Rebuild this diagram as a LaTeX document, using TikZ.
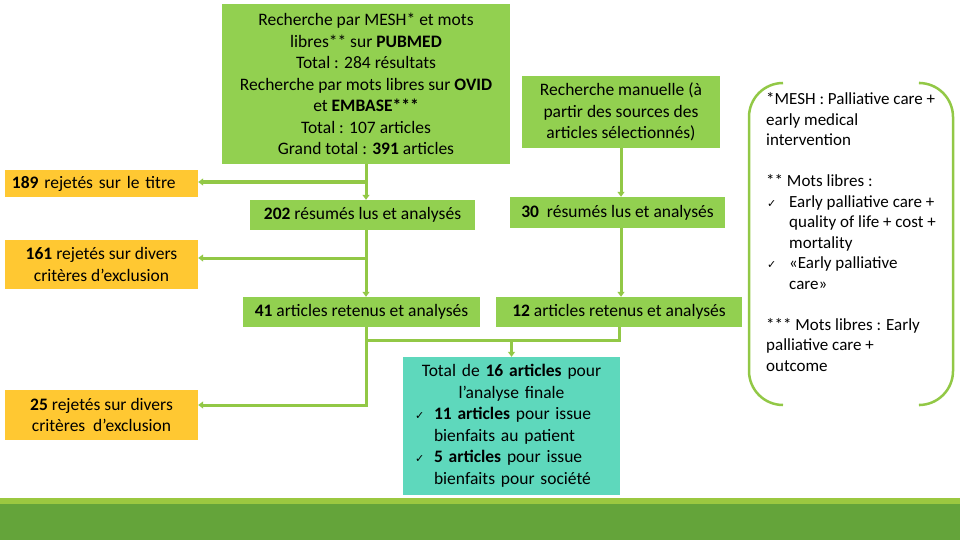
\documentclass[tikz,border=0pt]{standalone}
\usepackage{fontspec}
\setmainfont{Carlito}
\newfontfamily\djv{DejaVu Sans}
\usetikzlibrary{arrows.meta}
\definecolor{boxgreen}{RGB}{146,208,80}
\definecolor{linegreen}{RGB}{146,200,70}
\definecolor{orangebox}{RGB}{255,200,50}
\definecolor{tealbox}{RGB}{94,216,188}
\definecolor{bandlight}{RGB}{155,200,64}
\definecolor{banddark}{RGB}{100,164,58}
\newcommand{\ck}{{\djv\fontsize{11}{11}\selectfont ✓}}
\begin{document}
\begin{tikzpicture}[x=1pt,y=-1pt,
  txt/.style={font=\fontsize{17.5}{21.5}\selectfont},
  gbox/.style={txt, fill=boxgreen, inner sep=0pt, align=center},
  obox/.style={txt, fill=orangebox, inner sep=0pt, align=center},
  arr/.style={draw=linegreen, line width=3pt, -{Triangle[width=7pt,length=5pt]}},
  conn/.style={draw=linegreen, line width=3pt},
  legend/.style={font=\fontsize{17}{20.5}\selectfont, align=left, anchor=base west, inner sep=0pt},
  bracket/.style={draw=linegreen, line width=2.5pt, rounded corners=34pt}
]
\useasboundingbox (0,0) rectangle (960,540);
\fill[bandlight] (0,498) rectangle (960,504);
\fill[banddark] (0,504) rectangle (960,540);

\node[gbox, minimum width=288pt, minimum height=160pt] (top) at (366,84) {Recherche par MESH* et mots\\libres** sur \textbf{PUBMED}\\Total : 284 résultats\\Recherche par mots libres sur \textbf{OVID}\\et \textbf{EMBASE***}\\Total : 107 articles\\Grand total : \textbf{391} articles};
\node[gbox, minimum width=198pt, minimum height=72pt] (man) at (621,112) {Recherche manuelle (à\\partir des sources des\\articles sélectionnés)};
\node[obox, minimum width=193pt, minimum height=27pt, text width=179pt, align=left] (r189) at (101.5,183.5) {\textbf{189} rejetés sur le titre};
\node[gbox, minimum width=225pt, minimum height=30pt] (b202) at (362.5,215) {\textbf{202} résumés lus et analysés};
\node[gbox, minimum width=215pt, minimum height=31pt] (b30) at (617.5,212.5) {\textbf{30}~ résumés lus et analysés};
\node[obox, minimum width=193pt, minimum height=49pt] (r161) at (101.5,264.5) {\textbf{161} rejetés sur divers\\critères d’exclusion};
\node[gbox, minimum width=237pt, minimum height=30pt] (b41) at (361.5,312) {\textbf{41} articles retenus et analysés};
\node[gbox, minimum width=246pt, minimum height=30pt] (b12) at (619,312) {\textbf{12} articles retenus et analysés};
\node[obox, minimum width=193pt, minimum height=50pt] (r25) at (101.5,415) {\textbf{25} rejetés sur divers\\critères~ d’exclusion};
\node[txt, fill=tealbox, minimum width=217pt, minimum height=138pt, text width=193pt, inner xsep=12pt, inner ysep=0pt, align=left] (tot) at (511.5,426) {\makebox[\linewidth][c]{Total de \textbf{16 articles} pour}\\ \makebox[\linewidth][c]{l’analyse finale}\\ \makebox[19pt][l]{\ck}\textbf{11 articles} pour issue\\ \hspace*{19pt}bienfaits au patient\\ \makebox[19pt][l]{\ck}\textbf{5 articles} pour issue\\ \hspace*{19pt}bienfaits pour société};

\node[legend] (l1) at (766,146) {*MESH : Palliative care +\\early medical\\intervention};
\node[legend] (l2) at (766,289) {** Mots libres :\\ \makebox[23pt][l]{\hspace{1pt}\ck}Early palliative care +\\ \hspace*{23pt}quality of life + cost +\\ \hspace*{23pt}mortality\\ \makebox[23pt][l]{\hspace{1pt}\ck}«Early palliative\\ \hspace*{23pt}care»};
\node[legend] (l3) at (766,371) {*** Mots libres : Early\\palliative care +\\outcome};

\draw[bracket] (783,83) -- (749,83) -- (749,405) -- (783,405);
\draw[bracket] (920,83) -- (953,83) -- (953,405) -- (920,405);

\coordinate (c1) at (366,182);
\coordinate (c2) at (366,258);
\coordinate (c3) at (366,405);
\coordinate (c4) at (366,340);
\draw[arr] (top.south) -- (top.south |- b202.north);
\draw[arr] (c1) -- (c1 -| r189.east);
\draw[arr] (top.south |- b202.south) -- (top.south |- b41.north);
\draw[arr] (c2) -- (c2 -| r161.east);
\draw[arr] (top.south |- b41.south) -- (c3) -- (c3 -| r25.east);
\draw[conn] (c4) -- (c4 -| b12.south) -- (b12.south);
\draw[arr] (c4 -| tot.north) -- (tot.north);
\draw[arr] (man.south) -- (man.south |- b30.north);
\draw[arr] (man.south |- b30.south) -- (man.south |- b12.north);
\end{tikzpicture}
\end{document}
